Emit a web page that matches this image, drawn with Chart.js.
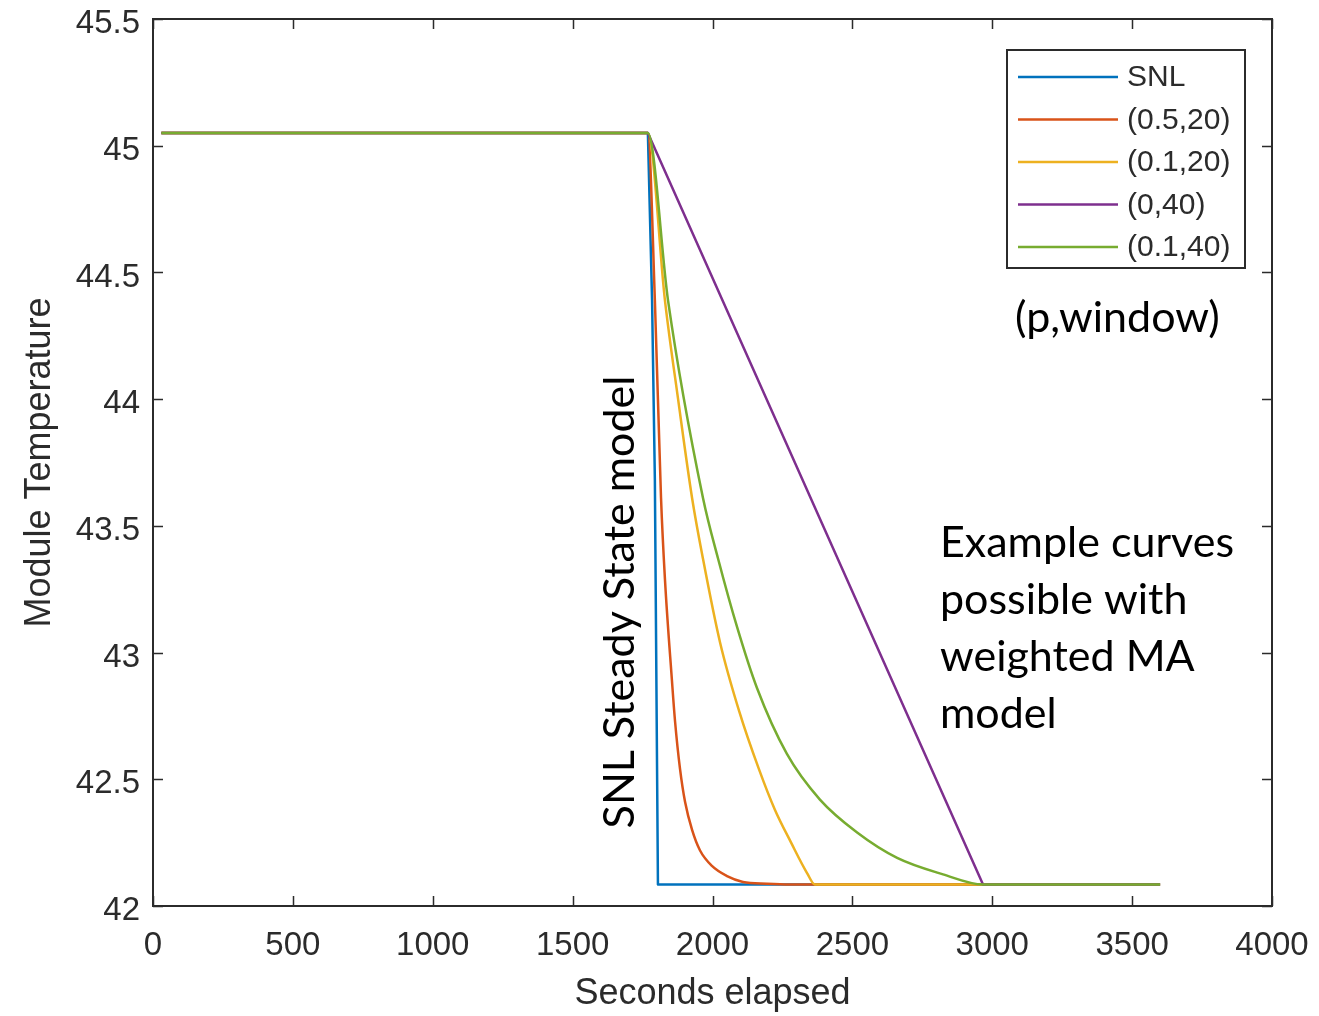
<!DOCTYPE html>
<html>
<head>
<meta charset="utf-8">
<script src="https://cdn.jsdelivr.net/npm/chart.js@4/dist/chart.umd.min.js"></script>
<style>
  html, body { margin: 0; padding: 0; background: #fff; }
  #wrap { width: 1319px; height: 1016px; position: relative; }
</style>
</head>
<body>
<div id="wrap"><canvas id="c" width="1319" height="1016"></canvas></div>
<script>
// ---- Data ----
const seriesLabels = ['SNL', '(0.5,20)', '(0.1,20)', '(0,40)', '(0.1,40)'];
const seriesColors = ['#0072BD', '#D95319', '#EDB120', '#7E2F8E', '#77AC30'];
const seriesSmooth = [false, true, true, false, true];

const snlX = [30, 1769, 1784, 1794, 1805, 3600];
const snlY = [45.05, 45.05, 44.39, 43.68, 42.085, 42.085];

const p05w20X = [30, 1769, 1794, 1816, 1830, 1855, 1866, 1884, 1902, 1927, 1955, 1998, 2052, 2109, 2195, 2277, 3600];
const p05w20Y = [45.05, 45.05, 44.39, 43.61, 43.29, 42.89, 42.73, 42.54, 42.41, 42.30, 42.22, 42.158, 42.118, 42.095, 42.088, 42.085, 42.085];

const p01w20X = [30, 1769, 1830, 1877, 1927, 1966, 2027, 2095, 2166, 2223, 2281, 2338, 2366, 3600];
const p01w20Y = [45.05, 45.05, 44.39, 44.00, 43.61, 43.37, 43.04, 42.77, 42.54, 42.38, 42.25, 42.13, 42.085, 42.085];

const p0w40X = [30, 1769, 2967, 3600];
const p0w40Y = [45.05, 45.05, 42.085, 42.085];

const p01w40X = [30, 1769, 1841, 1966, 2020, 2088, 2159, 2266, 2384, 2517, 2660, 2824, 2967, 3600];
const p01w40Y = [45.05, 45.05, 44.39, 43.61, 43.37, 43.10, 42.86, 42.60, 42.42, 42.29, 42.19, 42.125, 42.085, 42.085];

const xTicks = [0, 500, 1000, 1500, 2000, 2500, 3000, 3500, 4000];
const yTicks = [42, 42.5, 43, 43.5, 44, 44.5, 45, 45.5];
const yTickLabels = ['42', '42.5', '43', '43.5', '44', '44.5', '45', '45.5'];

const xTitle = 'Seconds elapsed';
const yTitle = 'Module Temperature';
const noteLegend = '(p,window)';
const noteCurves = ['Example curves', 'possible with', 'weighted MA', 'model'];
const noteSNL = 'SNL Steady State model';

// ---- Build datasets ----
const xs = [snlX, p05w20X, p01w20X, p0w40X, p01w40X];
const ys = [snlY, p05w20Y, p01w20Y, p0w40Y, p01w40Y];
const datasets = seriesLabels.map((lab, i) => {
  const ds = {
    label: lab,
    data: xs[i].map((x, k) => ({ x: x, y: ys[i][k] })),
    borderColor: seriesColors[i],
    backgroundColor: seriesColors[i],
    borderWidth: 2.5,
    pointRadius: 0,
    tension: 0,
    borderJoinStyle: 'round',
    fill: false,
    order: seriesLabels.length - 1 - i   // later series drawn on top (as in MATLAB)
  };
  if (seriesSmooth[i]) ds.cubicInterpolationMode = 'monotone';
  return ds;
});

const AX = '#2b2b2b';
const TICKFONT = { family: 'Liberation Sans, Arial, sans-serif', size: 33 };

const framePlugin = {
  id: 'frame',
  afterDraw(chart) {
    const ctx = chart.ctx;
    const a = chart.chartArea;
    const xs_ = chart.scales.x, ys_ = chart.scales.y;
    ctx.save();
    ctx.strokeStyle = AX;
    ctx.lineWidth = 2;
    ctx.strokeRect(a.left, a.top, a.right - a.left, a.bottom - a.top);
    const tl = 10;
    ctx.beginPath();
    xTicks.forEach(v => {
      const px = Math.round(xs_.getPixelForValue(v)) + 0.5;
      ctx.moveTo(px, a.bottom); ctx.lineTo(px, a.bottom - tl);
      ctx.moveTo(px, a.top); ctx.lineTo(px, a.top + tl);
    });
    yTicks.forEach(v => {
      const py = Math.round(ys_.getPixelForValue(v)) + 0.5;
      ctx.moveTo(a.left, py); ctx.lineTo(a.left + tl, py);
      ctx.moveTo(a.right, py); ctx.lineTo(a.right - tl, py);
    });
    ctx.lineWidth = 1.5;
    ctx.stroke();

    // Legend box
    const lx = a.right - 265, ly = a.top + 31, lw = 238, lh = 218;
    ctx.fillStyle = '#fff';
    ctx.fillRect(lx, ly, lw, lh);
    ctx.lineWidth = 2;
    ctx.strokeStyle = AX;
    ctx.strokeRect(lx, ly, lw, lh);
    ctx.font = '30px "Liberation Sans", Arial, sans-serif';
    ctx.textBaseline = 'middle';
    ctx.textAlign = 'left';
    chart.data.datasets.forEach((ds, i) => {
      const ry = ly + 27 + i * 42.5;
      ctx.strokeStyle = ds.borderColor;
      ctx.lineWidth = 2.5;
      ctx.beginPath();
      ctx.moveTo(lx + 11, ry); ctx.lineTo(lx + 111, ry);
      ctx.stroke();
      ctx.fillStyle = AX;
      ctx.fillText(ds.label, lx + 120, ry + 1);
    });

    // Annotations
    ctx.fillStyle = '#000';
    ctx.font = '43px Lato, "Open Sans", sans-serif';
    ctx.textBaseline = 'middle';
    ctx.textAlign = 'left';
    ctx.fillText(noteLegend, 1015, 318);
    noteCurves.forEach((t, i) => ctx.fillText(t, 940, 543 + i * 57));
    ctx.save();
    ctx.translate(620, 602);
    ctx.rotate(-Math.PI / 2);
    ctx.textAlign = 'center';
    ctx.fillText(noteSNL, 0, 0);
    ctx.restore();
    ctx.restore();
  }
};

new Chart(document.getElementById('c'), {
  type: 'line',
  data: { datasets: datasets },
  options: {
    responsive: false,
    animation: false,
    layout: { padding: { top: 19, right: 47, left: 0, bottom: 0 } },
    plugins: { legend: { display: false }, tooltip: { enabled: false } },
    scales: {
      x: {
        type: 'linear', min: 0, max: 4000,
        afterBuildTicks: s => { s.ticks = xTicks.map(v => ({ value: v })); },
        afterFit: s => { s.height = 110; s.paddingLeft = 0; s.paddingRight = 0; },
        grid: { display: false, drawTicks: false },
        border: { display: false },
        ticks: { color: AX, font: TICKFONT, padding: 20, maxRotation: 0, autoSkip: false,
                 callback: v => String(v) },
        title: { display: true, text: xTitle, color: AX,
                 font: { family: 'Liberation Sans, Arial, sans-serif', size: 36 },
                 padding: { top: 0, bottom: 0 } }
      },
      y: {
        type: 'linear', min: 42, max: 45.5,
        afterBuildTicks: s => { s.ticks = yTicks.map(v => ({ value: v })); },
        afterFit: s => { s.width = 153; s.paddingTop = 0; s.paddingBottom = 0; },
        grid: { display: false, drawTicks: false },
        border: { display: false },
        ticks: { color: AX, font: TICKFONT, padding: 13, autoSkip: false, labelOffset: 5,
                 callback: v => yTickLabels[yTicks.indexOf(v)] },
        title: { display: true, text: yTitle, color: AX,
                 font: { family: 'Liberation Sans, Arial, sans-serif', size: 36 },
                 padding: { top: 18, bottom: 0 } }
      }
    }
  },
  plugins: [framePlugin]
});
</script>
</body>
</html>
